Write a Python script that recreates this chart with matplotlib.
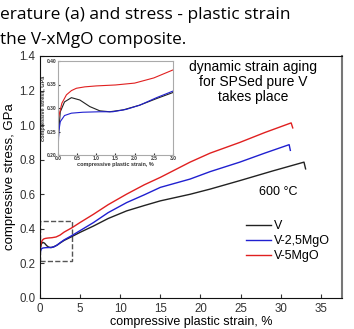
import matplotlib
matplotlib.use("Agg")
import matplotlib.pyplot as plt
from matplotlib.patches import Rectangle

# ---- data ----
v_strain = [0.0, 0.02, 0.06, 0.17, 0.35, 0.57, 0.83, 1.09, 1.35, 1.7, 2.13, 2.57, 3.0,
            4.0, 5.0, 6.65, 8.5, 10.8, 13.0, 15.0, 18.7, 21.2, 24.9, 29.0, 32.9, 33.1]
v_stress = [0.22, 0.25, 0.292, 0.313, 0.322, 0.317, 0.303, 0.294, 0.292, 0.296, 0.306, 0.32, 0.333,
            0.356, 0.38, 0.416, 0.46, 0.504, 0.535, 0.562, 0.60, 0.63, 0.679, 0.735, 0.786, 0.747]

v25_strain = [0.0, 0.02, 0.06, 0.17, 0.35, 0.65, 1.09, 1.43, 1.78, 2.13, 2.57, 3.0,
              4.0, 5.0, 6.65, 8.5, 10.8, 13.0, 15.0, 18.7, 21.2, 24.9, 28.0, 31.05, 31.2]
v25_stress = [0.2, 0.25, 0.271, 0.284, 0.289, 0.291, 0.292, 0.292, 0.297, 0.306, 0.322, 0.336,
              0.362, 0.39, 0.436, 0.494, 0.552, 0.597, 0.64, 0.688, 0.731, 0.786, 0.838, 0.887, 0.854]

v5_strain = [0.0, 0.04, 0.1, 0.22, 0.35, 0.48, 0.7, 1.0, 1.5, 2.0, 2.5, 3.0,
             4.0, 5.0, 6.65, 8.5, 10.8, 13.0, 15.0, 18.7, 21.2, 24.9, 28.0, 31.3, 31.5]
v5_stress = [0.275, 0.289, 0.31, 0.328, 0.337, 0.342, 0.345, 0.347, 0.349, 0.353, 0.364, 0.381,
             0.407, 0.437, 0.484, 0.54, 0.601, 0.655, 0.698, 0.786, 0.838, 0.90, 0.957, 1.013, 0.984]

labels = ["V", "V-2,5MgO", "V-5MgO"]
colors = ["#222222", "#2020d0", "#e02020"]

main_xticks = [0, 5, 10, 15, 20, 25, 30, 35]
main_yticks = [0.0, 0.2, 0.4, 0.6, 0.8, 1.0, 1.2, 1.4]
inset_xticks = [0.0, 0.5, 1.0, 1.5, 2.0, 2.5, 3.0]
inset_yticks = [0.20, 0.25, 0.30, 0.35, 0.40]

series = [(v_strain, v_stress), (v25_strain, v25_stress), (v5_strain, v5_stress)]

plt.rcParams['font.family'] = ['Liberation Sans', 'DejaVu Sans']

fig = plt.figure(figsize=(3.54, 3.29), dpi=100)

# slide caption fragment at the top
fig.text(0.0, 1 - 15 / 329, "erature (a) and stress - plastic strain", ha='left', va='center',
         fontsize=12.5, family='Open Sans')
fig.text(0.0, 1 - 40 / 329, "the V-xMgO composite.", ha='left', va='center',
         fontsize=12.3, family='Open Sans')

# ---- main axes ----
ax = fig.add_axes([40 / 354, 1 - 298 / 329, 301.7 / 354, 242 / 329])
for (x, y), lab, c in zip(series, labels, colors):
    ax.plot(x, y, color=c, lw=1.0, label=lab)
ax.set_xlim(0, 37.6)
ax.set_ylim(0, 1.4)
ax.set_xticks(main_xticks)
ax.set_yticks(main_yticks)
ax.set_yticklabels(["%.1f" % t for t in main_yticks])
ax.tick_params(direction='in', labelsize=8.3, colors='#333333', length=3)
ax.set_xlabel("compressive plastic strain, %", fontsize=9, labelpad=1)
ax.set_ylabel("compressive stress, GPa", fontsize=9.5, labelpad=2)
for s in ['top', 'left', 'bottom']:
    ax.spines[s].set_color('#111111')
ax.spines['right'].set_color('#777777')
ax.spines['right'].set_linewidth(1.5)

ax.add_patch(Rectangle((0.05, 0.216), 3.9, 0.229, fill=False, ls='--', lw=1.0, ec='#555555'))

ax.text(253 / 354, 1 - 82 / 329, "dynamic strain aging\nfor SPSed pure V\ntakes place",
        transform=fig.transFigure, ha='center', va='center', fontsize=10, linespacing=1.1)
ax.text(278 / 354, 1 - 192 / 329, "600 °C", transform=fig.transFigure,
        ha='center', va='center', fontsize=9)

leg = ax.legend(loc='upper left', bbox_to_anchor=(240 / 354, 1 - 214 / 329),
                bbox_transform=fig.transFigure, frameon=False, fontsize=9,
                handlelength=2.0, handletextpad=0.25, labelspacing=0.25, borderpad=0)

# ---- inset ----
axi = fig.add_axes([58 / 354, 1 - 155 / 329, 115 / 354, 94 / 329])
for (x, y), c in zip(series, colors):
    axi.plot(x, y, color=c, lw=0.8)
axi.set_xlim(0, 3.0)
axi.set_ylim(0.2, 0.4)
axi.set_xticks(inset_xticks)
axi.set_yticks(inset_yticks)
axi.set_xticklabels(["%.1f" % t for t in inset_xticks])
axi.set_yticklabels(["%.2f" % t for t in inset_yticks])
axi.tick_params(direction='in', labelsize=3.5, length=1.5, pad=1, colors='#333333')
for lab in axi.get_xticklabels() + axi.get_yticklabels():
    lab.set_fontweight('bold')
axi.set_xlabel("compressive plastic strain, %", fontsize=4, labelpad=0.5, fontweight='bold',
               color='#333333')
axi.set_ylabel("compressive stress, GPa", fontsize=4, labelpad=0.5, fontweight='bold',
               color='#333333')
for s in axi.spines.values():
    s.set_color('#aaaaaa')
    s.set_linewidth(0.8)

fig.savefig("out.png", dpi=100)
